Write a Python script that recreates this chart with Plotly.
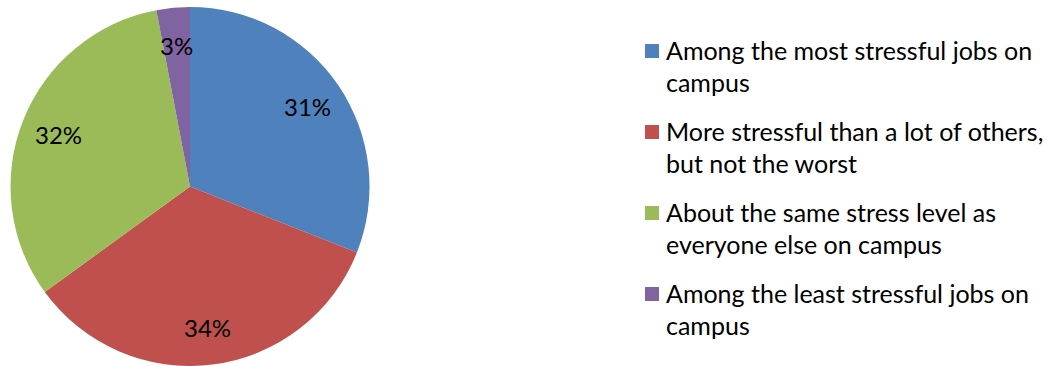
import math
import textwrap
import plotly.graph_objects as go

# Survey responses: how stressful the job is compared with others on campus
categories = [
    "Among the most stressful jobs on campus",
    "More stressful than a lot of others, but not the worst",
    "About the same stress level as everyone else on campus",
    "Among the least stressful jobs on campus",
]
percentages = [31, 34, 32, 3]
colors = ["#4F81BD", "#C0504D", "#9BBB59", "#8064A2"]

W, H = 1053, 366
TOP = 7
FONT = "Lato, Carlito, Calibri, sans-serif"
LABEL_FS = 24
LEGEND_FS = 25

# pie geometry in pixels (domain is square-limited by height)
pie_w = 380
plot_h = H - TOP
R = min(pie_w, plot_h) / 2
CX, CY = pie_w / 2, TOP + plot_h / 2


def px(x):
    return x / W


def py(y):
    return 1 - (y - TOP) / plot_h


fig = go.Figure(
    go.Pie(
        labels=categories,
        values=percentages,
        marker=dict(colors=colors, line=dict(width=0)),
        sort=False,
        direction="clockwise",
        rotation=0,
        textinfo="none",
        hoverinfo="label+percent",
        domain=dict(x=[0, pie_w / W], y=[0, 1]),
        showlegend=False,
    )
)

annotations = []
shapes = []

# percentage labels placed along each slice's middle angle
total = sum(percentages)
cum = 0
for v in percentages:
    mid = (cum + v / 2) / total
    cum += v
    ang = 2 * math.pi * mid
    r = 0.79 * R
    x = CX + r * math.sin(ang)
    y = CY - r * math.cos(ang)
    annotations.append(dict(
        x=px(x), y=py(y), xref="paper", yref="paper",
        text=f"{v}%", showarrow=False,
        xanchor="center", yanchor="middle",
        font=dict(family=FONT, size=LABEL_FS, color="#000000"),
    ))

# legend: colour square plus wrapped label lines
LEG_X = 645
SQ = 14
TEXT_X = 664
first_line_y = [50, 131, 212, 293]
LINE_GAP = 32
for name, col, y0 in zip(categories, colors, first_line_y):
    shapes.append(dict(
        type="rect", xref="paper", yref="paper",
        x0=px(LEG_X), x1=px(LEG_X + SQ),
        y0=py(y0 - SQ / 2 + 1), y1=py(y0 + SQ / 2 + 1),
        fillcolor=col, line=dict(width=0),
    ))
    for i, line in enumerate(textwrap.wrap(name, 36)):
        annotations.append(dict(
            x=px(TEXT_X), y=py(y0 + i * LINE_GAP), xref="paper", yref="paper",
            text=line, showarrow=False,
            xanchor="left", yanchor="middle",
            font=dict(family=FONT, size=LEGEND_FS, color="#000000"),
        ))

fig.update_layout(
    width=W, height=H,
    margin=dict(l=0, r=0, t=TOP, b=0),
    paper_bgcolor="#FFFFFF",
    plot_bgcolor="#FFFFFF",
    annotations=annotations,
    shapes=shapes,
)

fig.write_html("out.html")
